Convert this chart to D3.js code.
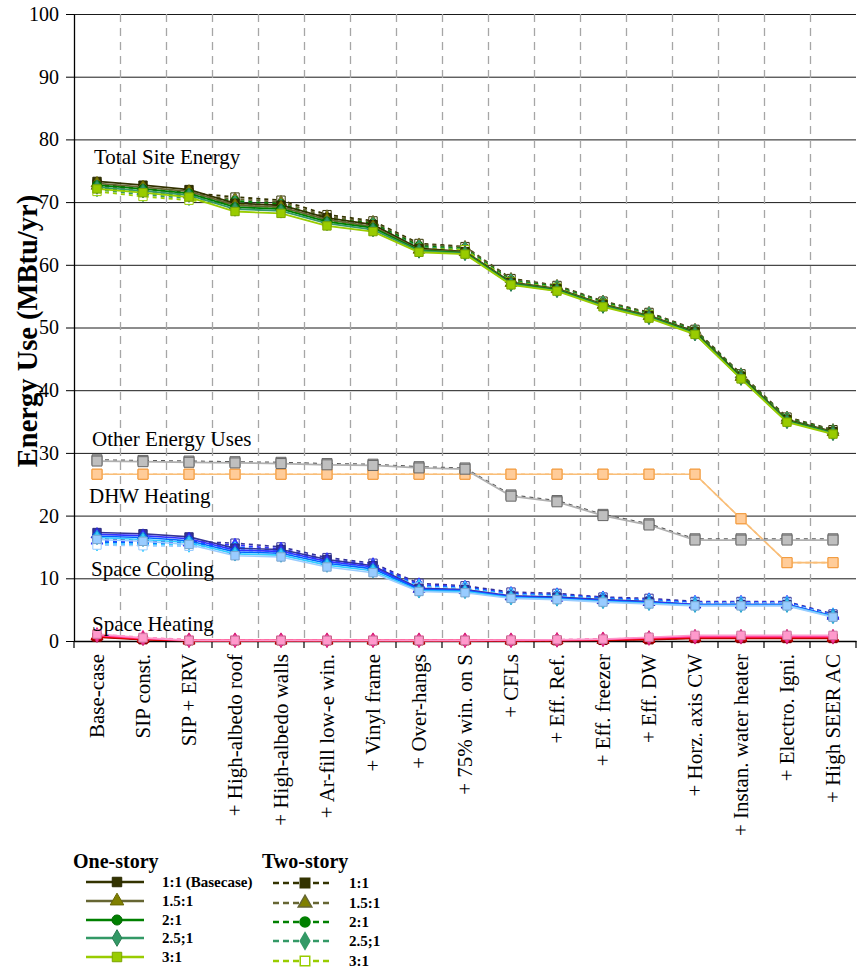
<!DOCTYPE html>
<html>
<head>
<meta charset="utf-8">
<script src="https://cdn.jsdelivr.net/npm/d3@7"></script>
<style>
  html, body { margin: 0; padding: 0; background: #fff; }
  svg { display: block; font-family: "Liberation Serif", "Times New Roman", serif; }
</style>
</head>
<body>
<svg id="chart" width="859" height="972"></svg>
<script>
// Efficiency measures applied cumulatively
const categories = [
  "Base-case", "SIP const.", "SIP + ERV", "+ High-albedo roof", "+ High-albedo walls",
  "+ Ar-fill low-e win.", "+ Vinyl frame", "+ Over-hangs", "+ 75% win. on S", "+ CFLs",
  "+ Eff. Ref.", "+ Eff. freezer", "+ Eff. DW", "+ Horz. axis CW", "+ Instan. water heater",
  "+ Electro. Igni.", "+ High SEER AC"
];
const yTicks = [0, 10, 20, 30, 40, 50, 60, 70, 80, 90, 100];
const ratioLabelsOne = ["1:1 (Basecase)", "1.5:1", "2:1", "2.5;1", "3:1"];
const ratioLabelsTwo = ["1:1", "1.5:1", "2:1", "2.5;1", "3:1"];

// Total site energy (MBtu/yr), rows = aspect ratio 1:1, 1.5:1, 2:1, 2.5:1, 3:1
const totalOneStory = [
  [73.3, 72.7, 72.0, 69.8, 69.5, 67.5, 66.4, 62.6, 62.1, 57.2, 56.2, 53.7, 51.9, 49.3, 42.2, 35.3, 33.4],
  [73.0, 72.4, 71.7, 69.5, 69.2, 67.2, 66.1, 62.4, 62.0, 57.1, 56.1, 53.6, 51.8, 49.2, 42.1, 35.2, 33.3],
  [72.7, 72.1, 71.4, 69.2, 68.9, 66.9, 65.9, 62.3, 61.9, 57.0, 56.0, 53.5, 51.7, 49.1, 42.0, 35.1, 33.2],
  [72.4, 71.8, 71.1, 68.9, 68.6, 66.6, 65.6, 62.2, 61.8, 56.9, 55.9, 53.4, 51.6, 49.0, 41.9, 35.0, 33.1],
  [72.1, 71.5, 70.8, 68.5, 68.2, 66.2, 65.3, 62.0, 61.7, 56.8, 55.8, 53.3, 51.5, 48.9, 41.8, 34.9, 33.0]
];
const totalTwoStory = [
  [72.9, 72.1, 71.5, 70.8, 70.3, 68.0, 67.0, 63.4, 62.9, 57.8, 56.7, 54.2, 52.4, 49.7, 42.6, 35.7, 33.7],
  [72.6, 71.8, 71.2, 70.5, 70.0, 67.7, 66.8, 63.2, 62.8, 57.7, 56.6, 54.1, 52.3, 49.6, 42.5, 35.6, 33.6],
  [72.3, 71.5, 70.9, 70.2, 69.7, 67.4, 66.6, 63.0, 62.6, 57.5, 56.5, 54.0, 52.2, 49.5, 42.4, 35.5, 33.5],
  [72.0, 71.2, 70.6, 69.9, 69.4, 67.1, 66.4, 62.8, 62.5, 57.4, 56.4, 53.9, 52.1, 49.4, 42.3, 35.4, 33.4],
  [71.7, 70.9, 70.3, 69.6, 69.1, 66.8, 66.2, 62.6, 62.4, 57.3, 56.3, 53.8, 52.0, 49.3, 42.2, 35.3, 33.3]
];
// Other energy uses and DHW heating (same for every geometry)
const otherUses = [28.9, 28.8, 28.7, 28.6, 28.5, 28.3, 28.2, 27.8, 27.6, 23.3, 22.4, 20.2, 18.7, 16.3, 16.3, 16.3, 16.3];
const dhwHeating = [26.6, 26.6, 26.6, 26.6, 26.6, 26.6, 26.6, 26.6, 26.6, 26.6, 26.6, 26.6, 26.6, 26.6, 19.5, 12.5, 12.5];
// Space cooling
const coolingOneStory = [
  [17.3, 17.1, 16.6, 14.8, 14.6, 13.0, 12.0, 8.4, 8.2, 7.2, 7.0, 6.6, 6.3, 5.8, 5.8, 5.8, 4.0],
  [17.0, 16.8, 16.3, 14.5, 14.3, 12.7, 11.8, 8.3, 8.1, 7.1, 6.9, 6.5, 6.2, 5.8, 5.8, 5.8, 4.0],
  [16.7, 16.5, 16.0, 14.2, 14.0, 12.4, 11.5, 8.2, 8.0, 7.0, 6.8, 6.4, 6.1, 5.7, 5.7, 5.7, 3.9],
  [16.5, 16.2, 15.7, 13.9, 13.7, 12.1, 11.2, 8.0, 7.9, 6.9, 6.7, 6.3, 6.0, 5.7, 5.7, 5.7, 3.9],
  [16.2, 15.9, 15.4, 13.6, 13.4, 11.8, 10.9, 7.9, 7.7, 6.8, 6.6, 6.2, 5.9, 5.6, 5.6, 5.6, 3.8]
];
const coolingTwoStory = [
  [16.3, 16.0, 15.9, 15.6, 15.0, 13.3, 12.4, 9.2, 8.8, 7.8, 7.6, 7.0, 6.8, 6.3, 6.3, 6.3, 4.3],
  [16.0, 15.8, 15.7, 15.3, 14.7, 13.0, 12.2, 9.0, 8.6, 7.6, 7.4, 6.9, 6.6, 6.2, 6.2, 6.2, 4.2],
  [15.8, 15.6, 15.5, 15.0, 14.4, 12.8, 12.0, 8.8, 8.5, 7.5, 7.3, 6.8, 6.5, 6.1, 6.1, 6.1, 4.1],
  [15.5, 15.4, 15.3, 14.7, 14.2, 12.6, 11.8, 8.7, 8.4, 7.4, 7.2, 6.7, 6.4, 6.0, 6.0, 6.0, 4.1],
  [15.3, 15.2, 15.1, 14.5, 14.0, 12.4, 11.6, 8.6, 8.3, 7.3, 7.1, 6.6, 6.3, 6.0, 6.0, 6.0, 4.0]
];
// Space heating
const heatingOneStory = [
  [0.6, 0.2, 0.05, 0.05, 0.05, 0.05, 0.05, 0.05, 0.05, 0.05, 0.05, 0.1, 0.2, 0.4, 0.4, 0.4, 0.4],
  [0.7, 0.3, 0.05, 0.05, 0.05, 0.05, 0.05, 0.05, 0.05, 0.05, 0.1, 0.15, 0.3, 0.5, 0.5, 0.5, 0.5],
  [0.8, 0.3, 0.1, 0.1, 0.1, 0.1, 0.1, 0.1, 0.1, 0.1, 0.1, 0.2, 0.4, 0.6, 0.6, 0.6, 0.6],
  [0.9, 0.4, 0.1, 0.1, 0.1, 0.1, 0.1, 0.1, 0.1, 0.1, 0.15, 0.25, 0.5, 0.7, 0.7, 0.7, 0.7],
  [1.1, 0.5, 0.1, 0.1, 0.1, 0.1, 0.1, 0.1, 0.1, 0.15, 0.2, 0.3, 0.6, 0.9, 0.9, 0.9, 0.9]
];
const heatingTwoStory = [
  [0.7, 0.3, 0.1, 0.1, 0.1, 0.1, 0.1, 0.1, 0.1, 0.1, 0.1, 0.2, 0.3, 0.5, 0.5, 0.5, 0.5],
  [0.8, 0.4, 0.1, 0.1, 0.1, 0.1, 0.1, 0.1, 0.1, 0.1, 0.1, 0.2, 0.35, 0.55, 0.55, 0.55, 0.55],
  [0.9, 0.5, 0.15, 0.15, 0.15, 0.15, 0.15, 0.15, 0.15, 0.15, 0.15, 0.25, 0.4, 0.6, 0.6, 0.6, 0.6],
  [1.0, 0.55, 0.15, 0.15, 0.15, 0.15, 0.15, 0.15, 0.15, 0.15, 0.2, 0.3, 0.45, 0.65, 0.65, 0.65, 0.65],
  [1.1, 0.6, 0.2, 0.2, 0.2, 0.2, 0.2, 0.2, 0.2, 0.2, 0.2, 0.3, 0.5, 0.7, 0.7, 0.7, 0.7]
];

const greens  = { line: ["#333300", "#666633", "#008000", "#339966", "#99CC00"], mark: ["#333300", "#808000", "#008000", "#339966", "#99CC00"] };
const blues   = { line: ["#333399", "#3333FF", "#0066FF", "#33CCFF", "#99CCFF"], mark: ["#333399", "#3333FF", "#0066FF", "#33CCFF", "#99CCFF"] };
const reds    = { line: ["#990000", "#CC0000", "#FF0000", "#FF3399", "#FF99CC"], mark: ["#990000", "#CC0000", "#FF0000", "#FF3399", "#FF99CC"] };
const symbols = [d3.symbolSquare, d3.symbolTriangle, d3.symbolCircle, d3.symbolDiamond, d3.symbolSquare];
const symbolSizes = [70, 60, 60, 60, 70];

const svg = d3.select("#chart");
const x = d3.scaleBand().domain(categories).range([74, 856]);
const y = d3.scaleLinear().domain([0, 100]).range([641, 14]);
const cx = c => x(c) + x.bandwidth() / 2;

// horizontal grid
svg.append("g")
  .attr("transform", "translate(74,0)")
  .call(d3.axisLeft(y).tickValues(yTicks).tickSize(-782).tickFormat(""))
  .call(g => g.select(".domain").remove())
  .call(g => g.selectAll("line").attr("stroke", "#1a1a1a").attr("stroke-width", 1));

// vertical dashed separators between measures
svg.append("g").selectAll("line")
  .data(categories.slice(1))
  .join("line")
  .attr("x1", d => Math.round(x(d)) + 0.5).attr("x2", d => Math.round(x(d)) + 0.5)
  .attr("y1", y(100)).attr("y2", y(0))
  .attr("stroke", "#a6a6a6").attr("stroke-width", 1.3).attr("stroke-dasharray", "8,6");

// y axis
const yAxis = svg.append("g")
  .attr("transform", "translate(74,0)")
  .call(d3.axisLeft(y).tickValues(yTicks).tickSize(8).tickPadding(7).tickSizeOuter(0));
yAxis.select(".domain").attr("stroke", "#000").attr("stroke-width", 1.3);
yAxis.selectAll("text").attr("font-size", 20).attr("fill", "#000").attr("font-family", "Liberation Serif");

// x axis: ticks on band boundaries, labels rotated
const xAxis = svg.append("g")
  .attr("transform", `translate(0,${y(0)})`)
  .call(d3.axisBottom(x).tickSize(0).tickSizeOuter(0));
xAxis.select(".domain").attr("stroke", "#000").attr("stroke-width", 1.3);
xAxis.selectAll("text")
  .attr("transform", "rotate(-90)")
  .attr("x", -13).attr("y", 0).attr("dy", "0.33em")
  .style("text-anchor", "end")
  .attr("font-size", 21).attr("fill", "#000").attr("font-family", "Liberation Serif");
svg.append("g").selectAll("line")
  .data(d3.range(categories.length + 1))
  .join("line")
  .attr("x1", i => 74 + i * x.bandwidth()).attr("x2", i => 74 + i * x.bandwidth())
  .attr("y1", y(0)).attr("y2", y(0) + 7)
  .attr("stroke", "#000").attr("stroke-width", 1.2);

const line = d3.line().x((d, i) => cx(categories[i])).y(d => y(d));

function drawSeries(values, lineColor, markColor, strokeColor, dashed, width, sym, size, open) {
  const g = svg.append("g");
  g.append("path").datum(values)
    .attr("d", line).attr("fill", "none")
    .attr("stroke", lineColor).attr("stroke-width", width)
    .attr("stroke-dasharray", dashed ? "4,4" : null);
  g.selectAll("path.m").data(values).join("path").attr("class", "m")
    .attr("transform", (d, i) => `translate(${cx(categories[i])},${y(d)})`)
    .attr("d", d3.symbol().type(sym).size(size))
    .attr("fill", open ? "#fff" : markColor)
    .attr("stroke", strokeColor).attr("stroke-width", 1);
}

function drawGroup(oneRows, twoRows, pal, width) {
  twoRows.forEach((row, k) => drawSeries(row, pal.line[k], pal.mark[k], pal.line[k], true, width, symbols[k], symbolSizes[k], k === 0 || k === 4));
  oneRows.forEach((row, k) => drawSeries(row, pal.line[k], pal.mark[k], d3.color(pal.mark[k]).darker(0.6), false, width, symbols[k], symbolSizes[k], false));
}

// Space heating
drawGroup(heatingOneStory, heatingTwoStory, reds, 1.6);
// Space cooling
drawGroup(coolingOneStory, coolingTwoStory, blues, 1.6);
// DHW heating
drawSeries(dhwHeating, "#F9BE78", "#FFCC99", "#F29A3C", true, 1.6, d3.symbolSquare, 100, false);
drawSeries(dhwHeating, "#F9BE78", "#FFCC99", "#F29A3C", false, 1.6, d3.symbolSquare, 100, false);
// Other energy uses
drawSeries(otherUses, "#595959", "#BFBFBF", "#666", true, 1.2, d3.symbolSquare, 100, false);
drawSeries(otherUses.map(v => v - 0.2), "#B0B0B0", "#BFBFBF", "#666", false, 1.8, d3.symbolSquare, 100, false);
// Total site energy
drawGroup(totalOneStory, totalTwoStory, greens, 1.8);

// End-use annotations
const notes = [
  { text: "Total Site Energy", x: 94, y: 164 },
  { text: "Other Energy Uses", x: 92, y: 446 },
  { text: "DHW Heating", x: 89, y: 503 },
  { text: "Space Cooling", x: 91, y: 576 },
  { text: "Space Heating", x: 92, y: 631 }
];
svg.append("g").selectAll("text").data(notes).join("text")
  .attr("x", d => d.x).attr("y", d => d.y)
  .attr("font-size", 21).attr("fill", "#000").text(d => d.text);

// y title
svg.append("text")
  .attr("transform", "translate(37,331) rotate(-90)")
  .attr("text-anchor", "middle")
  .attr("font-size", 28.5).attr("font-weight", "bold").attr("fill", "#000")
  .text("Energy Use (MBtu/yr)");

// Legend
const leg = svg.append("g");
leg.append("text").attr("x", 73).attr("y", 868).attr("font-size", 20).attr("font-weight", "bold").text("One-story");
leg.append("text").attr("x", 262).attr("y", 868).attr("font-size", 20).attr("font-weight", "bold").text("Two-story");
const oneRowsY = [882, 901, 920, 938, 957];
const twoRowsY = [883, 903, 922, 941, 961];
ratioLabelsOne.forEach((lab, k) => {
  const yy = oneRowsY[k];
  leg.append("line").attr("x1", 86).attr("x2", 144).attr("y1", yy).attr("y2", yy)
    .attr("stroke", greens.line[k]).attr("stroke-width", 2.5);
  leg.append("path").attr("transform", `translate(117,${yy})`)
    .attr("d", d3.symbol().type(symbols[k]).size(symbolSizes[k] + 20))
    .attr("fill", greens.mark[k]).attr("stroke", d3.color(greens.mark[k]).darker(0.6));
  leg.append("text").attr("x", 162).attr("y", yy + 5).attr("font-size", 15).attr("font-weight", "bold").text(lab);
});
ratioLabelsTwo.forEach((lab, k) => {
  const yy = twoRowsY[k];
  leg.append("line").attr("x1", 273).attr("x2", 333).attr("y1", yy).attr("y2", yy)
    .attr("stroke", greens.line[k]).attr("stroke-width", 2.5).attr("stroke-dasharray", "6,4");
  leg.append("path").attr("transform", `translate(305,${yy})`)
    .attr("d", d3.symbol().type(symbols[k]).size(symbolSizes[k] + 20))
    .attr("fill", k === 4 ? "#fff" : greens.mark[k]).attr("stroke", greens.line[k]).attr("stroke-width", 1.5);
  leg.append("text").attr("x", 349).attr("y", yy + 5).attr("font-size", 15).attr("font-weight", "bold").text(lab);
});
</script>
</body>
</html>
